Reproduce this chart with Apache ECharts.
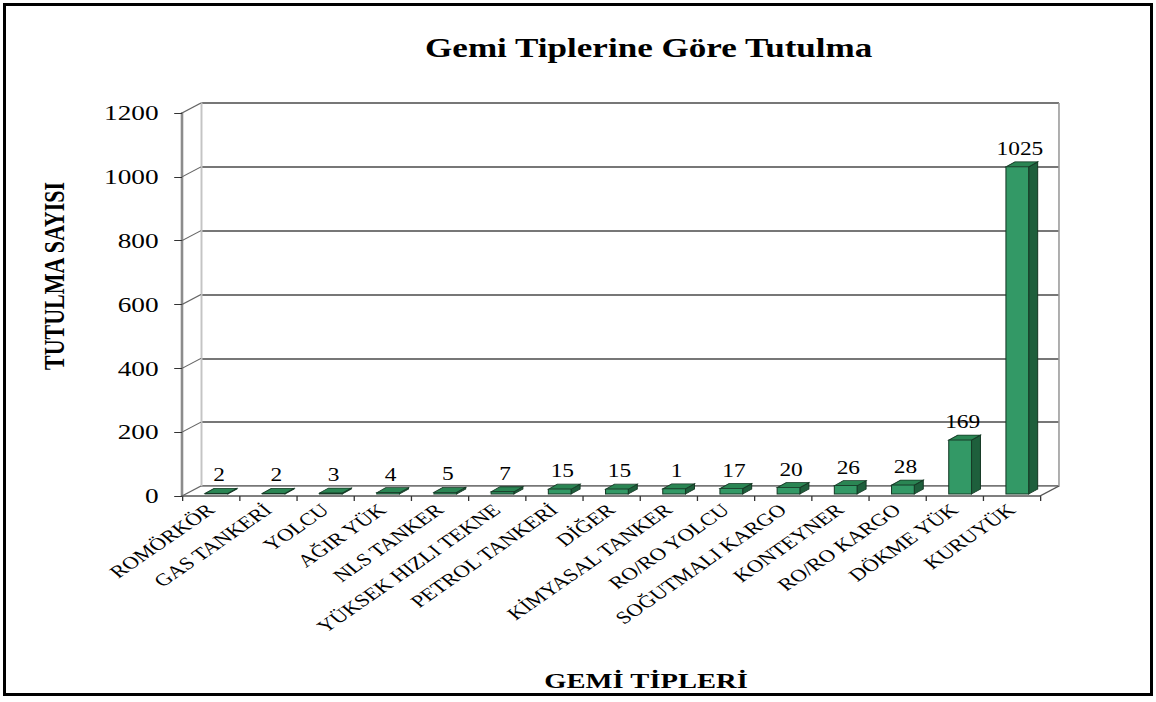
<!DOCTYPE html>
<html lang="tr">
<head>
    <meta charset="utf-8">
    <title>Gemi Tiplerine Göre Tutulma</title>
    <script src="https://cdn.jsdelivr.net/npm/echarts@6/dist/echarts.min.js"></script>
    <style>
        body { margin: 0; background: #fff; }
        /* the original picture is stretched sideways, so the chart is drawn narrow and scaled */
        #main { position: absolute; left: 0; top: 0; width: 889px; height: 702px;
                transform: scaleX(1.3); transform-origin: 0 0; }
        #frame { position: absolute; left: 3px; top: 3px; width: 1144px; height: 687px;
                 border: 3px solid #000; pointer-events: none; }
    </style>
</head>
<body>
<div id="main"></div>
<div id="frame"></div>
<script>
    var categories = ['ROMÖRKÖR', 'GAS TANKERİ', 'YOLCU', 'AĞIR YÜK', 'NLS TANKER', 'YÜKSEK HIZLI TEKNE',
        'PETROL TANKERİ', 'DİĞER', 'KİMYASAL TANKER', 'RO/RO YOLCU', 'SOĞUTMALI KARGO', 'KONTEYNER',
        'RO/RO KARGO', 'DÖKME YÜK', 'KURUYÜK'];
    var counts = [2, 2, 3, 4, 5, 7, 15, 15, 16, 17, 20, 26, 28, 169, 1025];
    // labels as printed on the chart (KİMYASAL TANKER shows "1")
    var barLabels = ['2', '2', '3', '4', '5', '7', '15', '15', '1', '17', '20', '26', '28', '169', '1025'];
    var yTicks = [0, 200, 400, 600, 800, 1000, 1200];

    var serif = "'Liberation Serif', 'DejaVu Serif', serif";
    var DX = 14.6, DY = -10;   // depth of the back wall

    var barData = [];
    for (var i = 0; i < counts.length; i++) {
        barData.push([i, counts[i], barLabels[i]]);
    }
    var tickData = [];
    for (var j = 0; j < yTicks.length; j++) {
        tickData.push([0, yTicks[j]]);
    }

    function renderBar(params, api) {
        var base = api.coord([api.value(0), 0]);
        var top = api.coord([api.value(0), api.value(1)]);
        var w = 17.5, dx = 6.9, dy = -5;
        var x0 = base[0] - 4.2;
        var yb = base[1] - 2, yt = top[1] - 2;
        var line = '#163a26';
        return {
            type: 'group',
            children: [
                { type: 'polygon', shape: { points: [[x0 + w, yb], [x0 + w + dx, yb + dy], [x0 + w + dx, yt + dy], [x0 + w, yt]] },
                  style: { fill: '#1e5f3c', stroke: line, lineWidth: 0.8 } },
                { type: 'polygon', shape: { points: [[x0, yt], [x0 + dx, yt + dy], [x0 + w + dx, yt + dy], [x0 + w, yt]] },
                  style: { fill: '#2a8553', stroke: line, lineWidth: 0.8 } },
                { type: 'rect', shape: { x: x0, y: yt, width: w, height: yb - yt },
                  style: { fill: '#339966', stroke: line, lineWidth: 0.8 } },
                { type: 'text', x: x0 + w / 2 + 2, y: yt + dy - 4,
                  style: { text: api.value(2), font: '18px ' + serif, fill: '#000', align: 'center', verticalAlign: 'bottom' } }
            ]
        };
    }

    // short slanted lines from the front axis ticks to the back wall
    function renderTick(params, api) {
        var cs = params.coordSys;
        var p = api.coord([0, api.value(1)]);
        var kids = [{ type: 'line', shape: { x1: cs.x, y1: p[1], x2: cs.x + DX, y2: p[1] + DY },
                      style: { stroke: '#666', lineWidth: 1 } }];
        if (api.value(1) === 0) {
            var xr = cs.x + cs.width;
            var topY = api.coord([0, yTicks[yTicks.length - 1]])[1];
            kids.push({ type: 'line', shape: { x1: xr, y1: p[1], x2: xr + DX, y2: p[1] + DY },
                        style: { stroke: '#555', lineWidth: 1.2 } });
            kids.push({ type: 'line', shape: { x1: xr + DX, y1: p[1] + DY, x2: xr + DX, y2: topY + DY },
                        style: { stroke: '#999', lineWidth: 1.2 } });
        }
        return { type: 'group', children: kids };
    }

    var myChart = echarts.init(document.getElementById('main'), null, { renderer: 'svg' });
    var option = {
        animation: false,
        title: {
            text: 'Gemi Tiplerine Göre Tutulma',
            left: 494,
            textAlign: 'center',
            top: 29,
            textStyle: { fontFamily: serif, fontWeight: 'bold', fontSize: 27, color: '#000' }
        },
        graphic: [
            { type: 'text', x: 42, y: 276, rotation: Math.PI / 2,
              style: { text: 'TUTULMA SAYISI', font: 'bold 22px ' + serif, fill: '#000', align: 'center', verticalAlign: 'middle' } },
            { type: 'text', x: 497, y: 681,
              style: { text: 'GEMİ TİPLERİ', font: 'bold 22px ' + serif, fill: '#000', align: 'center', verticalAlign: 'middle' } }
        ],
        grid: [
            { left: 140, right: 89, top: 113, bottom: 206 },
            { left: 140 + DX, right: 89 - DX, top: 113 + DY, bottom: 206 - DY }
        ],
        xAxis: [{
            gridIndex: 0,
            type: 'category',
            data: categories,
            axisLine: { lineStyle: { color: '#555', width: 1.5 } },
            axisTick: { show: true, length: 5, lineStyle: { color: '#333' } },
            axisLabel: { interval: 0, rotate: 42, margin: 11, color: '#000', fontFamily: serif, fontSize: 17.5 }
        }, {
            gridIndex: 1,
            type: 'category',
            data: categories,
            axisLine: { lineStyle: { color: '#999', width: 1 } },
            axisTick: { show: false },
            axisLabel: { show: false }
        }],
        yAxis: [{
            gridIndex: 0,
            type: 'value',
            min: 0, max: 1200, interval: 200,
            axisLine: { show: true, lineStyle: { color: '#8c8c8c', width: 2 } },
            axisTick: { show: true, length: 6, lineStyle: { color: '#333' } },
            axisLabel: { margin: 18, color: '#000', fontFamily: serif, fontSize: 21,
                         formatter: function (v) { return String(v); } },
            splitLine: { show: false }
        }, {
            gridIndex: 1,
            type: 'value',
            min: 0, max: 1200, interval: 200,
            axisLine: { show: true, lineStyle: { color: '#c4c4c4', width: 1.5 } },
            axisTick: { show: false },
            axisLabel: { show: false },
            splitLine: { show: true, lineStyle: { color: '#4a4a4a', width: 1.5 } }
        }],
        series: [{
            type: 'custom',
            xAxisIndex: 0, yAxisIndex: 0,
            renderItem: renderTick,
            data: tickData,
            z: 1,
            silent: true
        }, {
            type: 'custom',
            xAxisIndex: 0, yAxisIndex: 0,
            renderItem: renderBar,
            data: barData,
            z: 3
        }]
    };
    myChart.setOption(option);
</script>
</body>
</html>
